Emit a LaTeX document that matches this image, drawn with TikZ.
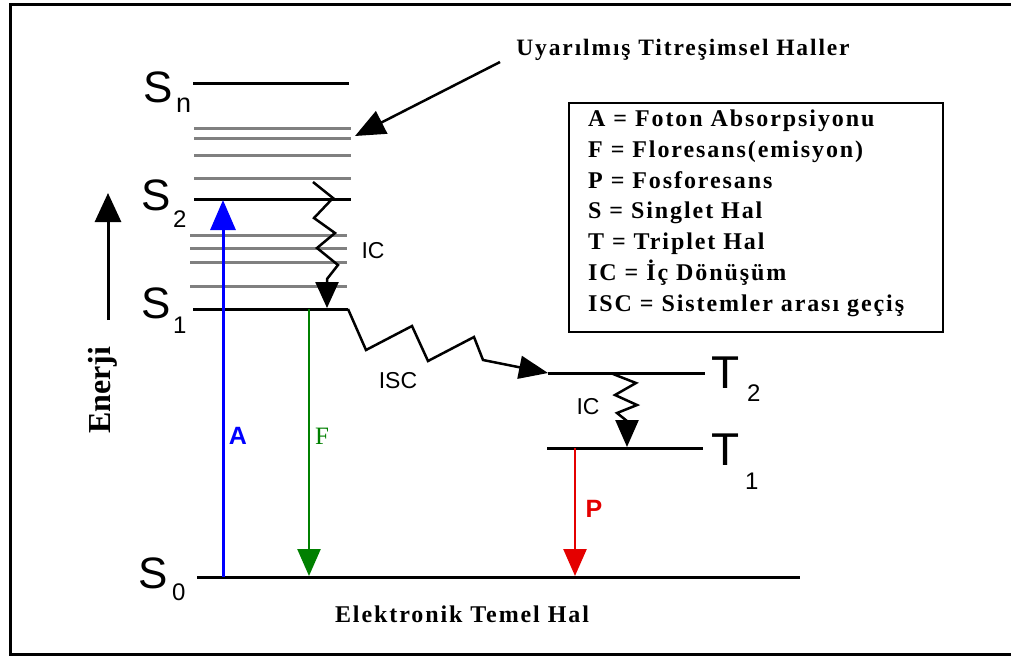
\documentclass[tikz,border=0pt]{standalone}
\usepackage{fontspec}
\setmainfont{Liberation Serif}
\setsansfont{Liberation Sans}
\newfontfamily\legfont[LetterSpace=8]{Liberation Serif}
\usetikzlibrary{arrows.meta}
\definecolor{lvlgray}{RGB}{128,128,128}
\definecolor{absblue}{RGB}{0,0,255}
\definecolor{flgreen}{RGB}{0,128,0}
\definecolor{phred}{RGB}{228,0,0}
\begin{document}
\begin{tikzpicture}[x=1pt,y=-1pt,
  level/.style={line width=3pt,black},
  vib/.style={line width=3pt,lvlgray},
  lbl/.style={inner sep=0pt,anchor=base west,font=\sffamily\fontsize{44}{44}\selectfont},
  tlbl/.style={inner sep=0pt,anchor=base west,font=\sffamily\fontsize{46}{46}\selectfont},
  sublbl/.style={inner sep=0pt,anchor=base west,font=\sffamily\fontsize{24}{24}\selectfont},
  small/.style={inner sep=0pt,font=\sffamily\fontsize{23}{23}\selectfont},
  legtxt/.style={inner sep=0pt,anchor=base west,font=\legfont\bfseries\fontsize{24}{24}\selectfont},
  zig/.style={line width=2.5pt,black,line join=miter},
  bigtip/.style={-{Triangle[length=#1,width=23pt]}},
]
\useasboundingbox (0,0) rectangle (1011,657);
% frame
\draw[line width=3pt] (1015,4.5) -- (10,4.5) -- (10,654) -- (1015,654);

% coordinates of levels
\coordinate (snL) at (193,83);  \coordinate (snR) at (349,83);
\coordinate (s2L) at (194,199); \coordinate (s2R) at (351,199);
\coordinate (s1L) at (193,309); \coordinate (s1R) at (348,309);
\coordinate (s0L) at (197,577); \coordinate (s0R) at (800,577);
\coordinate (t2L) at (548,373); \coordinate (t2R) at (705,373);
\coordinate (t1L) at (547,448); \coordinate (t1R) at (703,448);

% vibrational levels
\foreach \yy in {128,138,155,178} \draw[vib] (194,\yy) -- (351,\yy);
\foreach \yy in {235,248,262,286} \draw[vib] (190,\yy) -- (347,\yy);

% electronic levels
\draw[level] (snL) -- (snR);
\draw[level] (s2L) -- (s2R);
\draw[level] (s1L) -- (s1R);
\draw[level] (s0L) -- (s0R);
\draw[level] (t2L) -- (t2R);
\draw[level] (t1L) -- (t1R);

% level labels
\node[lbl] (lsn) at (143,102) {S};
\node[sublbl,font=\sffamily\fontsize{27}{27}\selectfont] (lsnsub) at (176,112) {n};
\node[lbl] (ls2) at (141,210) {S};
\node[sublbl] (ls2sub) at (173,227) {2};
\node[lbl] (ls1) at (141,318) {S};
\node[sublbl] (ls1sub) at (173,333) {1};
\node[lbl] (ls0) at (138,588) {S};
\node[sublbl] (ls0sub) at (172,600) {0};
\node[tlbl] (lt2) at (711,388) {T};
\node[sublbl] (lt2sub) at (747,401) {2};
\node[tlbl] (lt1) at (711,465) {T};
\node[sublbl] (lt1sub) at (745,489) {1};

% absorption, fluorescence, phosphorescence
\coordinate (aBot) at (223,577); \coordinate (aTop) at (223,200);
\draw[absblue,line width=3pt,-{Triangle[length=30pt,width=25pt]}] (aBot) -- (aTop);
\node[small,text=absblue,font=\sffamily\bfseries\fontsize{25}{25}\selectfont] (labA) at (238,436) {A};

\coordinate (fTop) at (309,309); \coordinate (fBot) at (309,576);
\draw[flgreen,line width=2.5pt,-{Triangle[length=27pt,width=23pt]}] (fTop) -- (fBot);
\node[inner sep=0pt,text=flgreen,font=\rmfamily\fontsize{25}{25}\selectfont] (labF) at (322,436) {F};

\coordinate (pTop) at (575,448); \coordinate (pBot) at (575,576);
\draw[phred,line width=2.5pt,-{Triangle[length=27pt,width=23pt]}] (pTop) -- (pBot);
\node[small,text=phred,font=\sffamily\bfseries\fontsize{25}{25}\selectfont] (labP) at (594,509) {P};

% internal conversion S2 -> S1
\draw[zig,bigtip=26pt] (313,182) -- (333,198) -- (314,218) -- (335,233) -- (317,248) -- (338,265) -- (327,279) -- (327,308);
\node[small] (labIC1) at (373,251) {IC};

% ISC
\draw[zig,bigtip=29pt] (s1R) -- (366,350) -- (412,326) -- (428,361) -- (474,337) -- (483,360) -- (t2L);
\node[small] (labISC) at (398,381) {ISC};

% internal conversion T2 -> T1
\draw[zig,bigtip=27pt] (613,374) -- (636,383) -- (615,395) -- (637,405) -- (617,413) -- (627,421) -- (627,447);
\node[small] (labIC2) at (588,407) {IC};

% energy axis
\coordinate (eBot) at (108,320); \coordinate (eTop) at (108,193);
\draw[line width=3pt,-{Triangle[length=29pt,width=26pt]}] (eBot) -- (eTop);
\node[inner sep=0pt,rotate=90,font=\rmfamily\bfseries\fontsize{32}{32}\selectfont] (enerji) at (103,390) {Enerji};

% excited vibrational states annotation
\node[inner sep=0pt,font=\legfont\bfseries\fontsize{23.5}{23.5}\selectfont] (uyar) at (683,50) {Uyarılmış Titreşimsel Haller};
\coordinate (uyTail) at (500,62); \coordinate (uyTip) at (355,136);
\draw[line width=2.5pt,-{Triangle[length=30pt,width=25pt]}] (uyTail) -- (uyTip);

% ground state caption
\node[inner sep=0pt,font=\legfont\bfseries\fontsize{24}{24}\selectfont] (temel) at (462,614) {Elektronik Temel Hal};

% legend
\node[draw,line width=2pt,minimum width=374pt,minimum height=229pt,inner sep=0pt,anchor=north west] (legend) at (568,102) {};
\node[legtxt] (lg1) at (588,126) {A = Foton Absorpsiyonu};
\node[legtxt] (lg2) at (588,157) {F = Floresans(emisyon)};
\node[legtxt] (lg3) at (588,188) {P = Fosforesans};
\node[legtxt] (lg4) at (588,218) {S = Singlet Hal};
\node[legtxt] (lg5) at (588,249) {T = Triplet Hal};
\node[legtxt] (lg6) at (588,280) {IC = İç Dönüşüm};
\node[legtxt] (lg7) at (588,311) {ISC = Sistemler arası geçiş};
\end{tikzpicture}
\end{document}
